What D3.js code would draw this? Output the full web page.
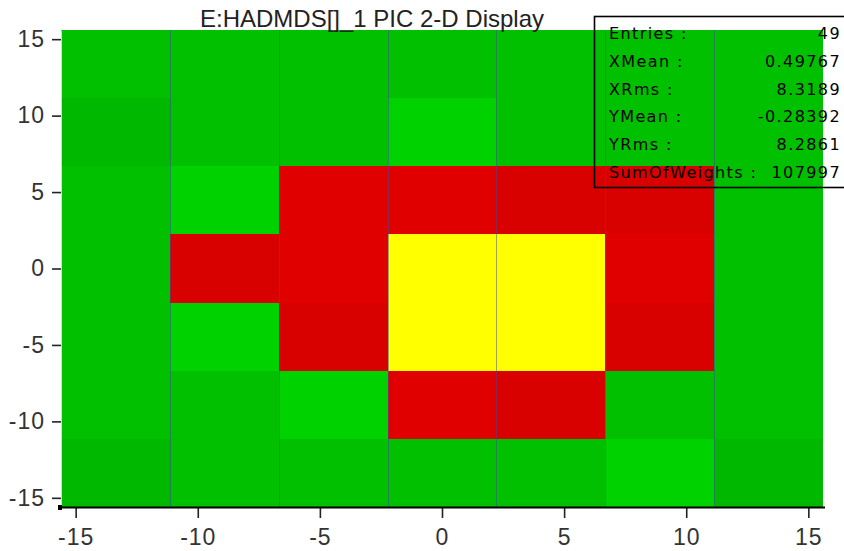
<!DOCTYPE html>
<html>
<head>
<meta charset="utf-8">
<script src="https://cdn.jsdelivr.net/npm/d3@7"></script>
<style>
  html, body { margin: 0; padding: 0; background: #fff; }
  svg { display: block; }
</style>
</head>
<body>
<svg id="chart" width="844" height="551"></svg>
<script>
// ---- data ----
const titleText = "E:HADMDS[]_1 PIC 2-D Display";
const xBinEdges = [-15.6, -11.143, -6.686, -2.229, 2.229, 6.686, 11.143, 15.6];
const yBinEdges = [-15.6, -11.143, -6.686, -2.229, 2.229, 6.686, 11.143, 15.6];
// rows from top (highest y bin) to bottom, columns left to right
const cellValues = [
  [957, 960, 940, 980, 970, 950, 930],
  [760, 1010, 1020, 1250, 1050, 990, 960],
  [980, 1280, 3500, 3700, 2850, 2800, 1000],
  [1020, 2700, 3800, 9800, 10100, 3200, 1030],
  [990, 1300, 2750, 9600, 9900, 2800, 1010],
  [950, 1040, 1260, 3250, 2880, 1050, 980],
  [720, 960, 1000, 1020, 1060, 1240, 750]
];
const colorThresholds = [800, 1100, 2000, 2900, 5000];
const colorLevels = ["#00b800", "#00c000", "#00d200", "#d90000", "#e10000", "#ffff00"];
const xTicks = [-15, -10, -5, 0, 5, 10, 15];
const yTicks = [-15, -10, -5, 0, 5, 10, 15];
const statLabels = ["Entries :", "XMean :", "XRms :", "YMean :", "YRms :", "SumOfWeights :"];
const statValues = ["49", "0.49767", "8.3189", "-0.28392", "8.2861", "107997"];

// ---- layout ----
const svg = d3.select("#chart");
const x = d3.scaleLinear().domain([-15.6, 15.6]).range([61, 823]);
const y = d3.scaleLinear().domain([-15.6, 15.6]).range([507, 30]);
const color = d3.scaleThreshold().domain(colorThresholds).range(colorLevels);

// cells
const cells = [];
cellValues.forEach((row, r) => {
  const yi = yBinEdges.length - 2 - r;
  row.forEach((v, c) => cells.push({ r, c, v, x0: xBinEdges[c], x1: xBinEdges[c + 1], y0: yBinEdges[yi], y1: yBinEdges[yi + 1] }));
});
svg.append("g").attr("shape-rendering", "crispEdges")
  .selectAll("rect").data(cells).join("rect")
  .attr("x", d => x(d.x0))
  .attr("y", d => y(d.y1))
  .attr("width", d => x(d.x1) - x(d.x0))
  .attr("height", d => y(d.y0) - y(d.y1))
  .attr("fill", d => color(d.v));

// vertical bin separators
svg.append("g")
  .selectAll("line").data(xBinEdges.slice(1, -1)).join("line")
  .attr("x1", d => Math.round(x(d)) + 0.5).attr("x2", d => Math.round(x(d)) + 0.5)
  .attr("y1", y(15.6)).attr("y2", y(-15.6))
  .attr("stroke", "#404aa0").attr("stroke-opacity", 0.5).attr("stroke-width", 1);

// title
svg.append("text")
  .attr("x", 372).attr("y", 27)
  .attr("text-anchor", "middle")
  .attr("font-family", "Liberation Sans, Arial, sans-serif")
  .attr("font-size", 24)
  .attr("fill", "#222")
  .text(titleText);

// axes
const fontAxis = "Liberation Sans, Arial, sans-serif";
const fmt = d => String(d);
const xAxis = svg.append("g")
  .attr("transform", `translate(0,${y(-15.6)})`)
  .call(d3.axisBottom(x).tickValues(xTicks).tickFormat(fmt).tickSize(11).tickSizeOuter(0).tickPadding(11));
xAxis.select(".domain").remove();
xAxis.append("line").attr("x1", 58).attr("x2", 825).attr("y1", 0.5).attr("y2", 0.5)
  .attr("stroke", "#000").attr("stroke-width", 2);
xAxis.selectAll(".tick line").attr("stroke", "#222").attr("stroke-width", 1.6);
xAxis.selectAll("text").attr("font-family", fontAxis).attr("font-size", 23)
  .attr("letter-spacing", 1).attr("fill", "#333");

const yAxis = svg.append("g")
  .attr("transform", `translate(${x(-15.6)},0)`)
  .call(d3.axisLeft(y).tickValues(yTicks).tickFormat(fmt).tickSize(9).tickSizeOuter(0).tickPadding(7));
yAxis.select(".domain").attr("stroke", "#d8d8d8").attr("stroke-width", 1);
yAxis.selectAll(".tick line").attr("stroke", "#222").attr("stroke-width", 1.6);
yAxis.selectAll("text").attr("font-family", fontAxis).attr("font-size", 23)
  .attr("letter-spacing", 1).attr("fill", "#333");

// corner mark
svg.append("rect").attr("x", 58).attr("y", 505).attr("width", 4).attr("height", 5).attr("fill", "#000");

// stats box
const box = svg.append("g");
box.append("rect").attr("x", 594.5).attr("y", 16.5).attr("width", 270).attr("height", 171)
  .attr("fill", "none").attr("stroke", "#000").attr("stroke-width", 1.6);
const rowY = d3.scaleLinear().domain([0, statLabels.length - 1]).range([39, 178]);
box.selectAll("text.lbl").data(statLabels).join("text").attr("class", "lbl")
  .attr("x", 609).attr("y", (d, i) => rowY(i))
  .attr("font-family", "DejaVu Sans, sans-serif").attr("font-size", 16)
  .attr("letter-spacing", 1.4).attr("fill", "#000").text(d => d);
box.selectAll("text.val").data(statValues).join("text").attr("class", "val")
  .attr("x", 841).attr("y", (d, i) => rowY(i))
  .attr("text-anchor", "end")
  .attr("font-family", "DejaVu Sans, sans-serif").attr("font-size", 16)
  .attr("letter-spacing", 1.4).attr("fill", "#000").text(d => d);
</script>
</body>
</html>
